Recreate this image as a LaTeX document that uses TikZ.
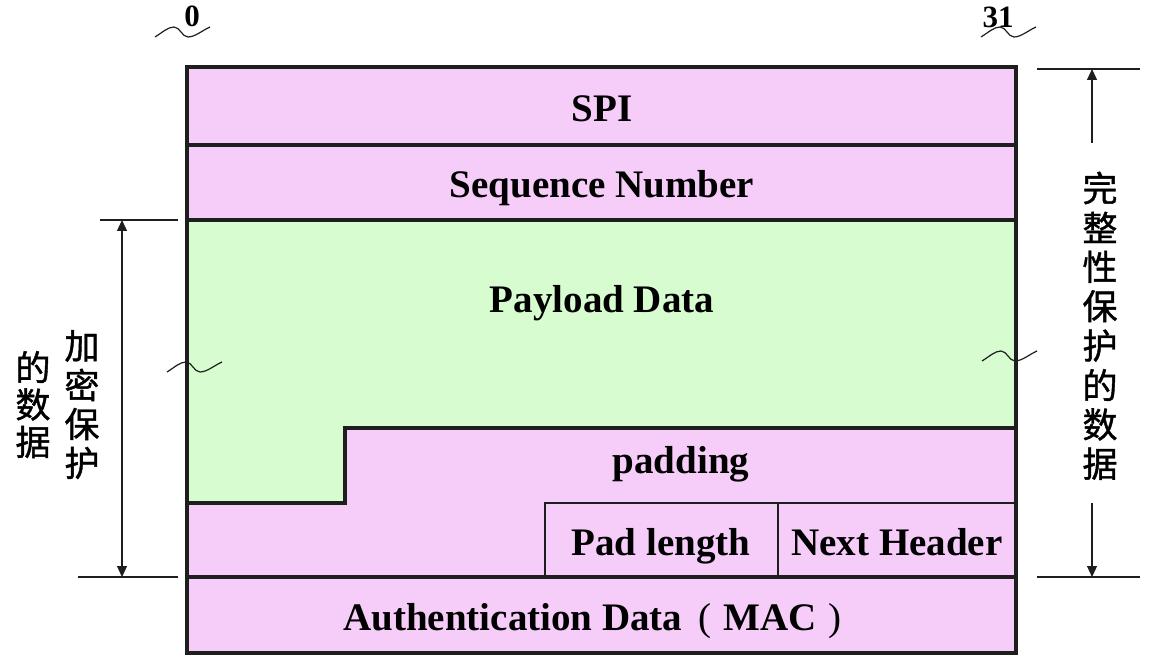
\documentclass[tikz,border=0pt]{standalone}
\usepackage{fontspec}
\setmainfont{Liberation Serif}
\newfontfamily\cjk[FakeBold=1.2]{Noto Sans CJK SC}
\usetikzlibrary{arrows.meta}
\definecolor{pinkc}{RGB}{246,204,249}
\definecolor{greenc}{RGB}{214,252,208}
\definecolor{linec}{RGB}{30,30,30}
\begin{document}
\begin{tikzpicture}[x=0.5pt,y=-0.5pt,
  heavy/.style={draw=linec,line width=2pt},
  light/.style={draw=linec,line width=1.2pt},
  dimline/.style={draw=linec,line width=0.6pt},
  dimarrow/.style={draw=linec,line width=0.6pt,-{Triangle[length=5.5pt,width=5pt]}},
  field/.style={font=\fontsize{19.5}{20}\selectfont\bfseries,anchor=base,inner sep=0pt},
  bitlbl/.style={font=\fontsize{15.5}{16}\selectfont\bfseries,anchor=base,inner sep=0pt},
  cjkchar/.style={font=\cjk\fontsize{17.5}{18}\selectfont,anchor=center,inner sep=0pt},
  wave/.pic={\draw[linec,line width=0.6pt] (0,0) .. controls (8,-5) and (13,-10) .. (19,-10) .. controls (25,-10) and (27,0) .. (33,0) .. controls (40,0) and (48,-7) .. (55,-10);}
]
\useasboundingbox (0,0) rectangle (1150,668);
% fills
\fill[pinkc] (187,67) rectangle (1016,653);
\fill[greenc] (187,221) -- (1016,221) -- (1016,428) -- (345,428) -- (345,503) -- (187,503) -- cycle;
% lines
\draw[light] (545,577) -- (545,503) -- (1016,503);
\draw[light] (778,503) -- (778,577);
\draw[heavy] (187,145) -- (1016,145);
\draw[heavy] (187,220) -- (1016,220);
\draw[heavy] (1016,428) -- (345,428) -- (345,503) -- (187,503);
\draw[heavy] (187,577) -- (1016,577);
\draw[heavy] (187,67) rectangle (1016,653);
% field texts
\node[field] (spi) at (602,122) {SPI};
\node[field] (seq) at (602,198) {Sequence Number};
\node[field] (pay) at (602,312) {Payload Data};
\node[field] (pad) at (681,473) {padding};
\node[field] (padlen) at (661,555) {Pad length};
\node[field] (nh) at (897,555) {Next Header};
\node[field,anchor=base west] (auth) at (343,630) {Authentication Data\hspace{8pt}{\mdseries(}\hspace{6pt}MAC\hspace{6pt}{\mdseries)}};
% bit labels
\node[bitlbl] (b0) at (192,27) {0};
\node[bitlbl] (b31) at (998,28) {31};
\pic at (155,37) {wave};
\pic at (981,37) {wave};
\pic at (167,372) {wave};
\pic at (982,361) {wave};
% left dimension
\coordinate (lt1) at (100,220);
\coordinate (lt2) at (178,220);
\coordinate (lb1) at (78,577);
\coordinate (lb2) at (178,577);
\coordinate (la) at (122,220);
\coordinate (lb) at (122,577);
\draw[dimline] (lt1) -- (lt2);
\draw[dimline] (lb1) -- (lb2);
\draw[dimline,{Triangle[length=5.5pt,width=5pt]}-{Triangle[length=5.5pt,width=5pt]}] (la) -- (lb);
\foreach \c [count=\i] in {加,密,保,护}
  \node[cjkchar] (enc\i) at (82,{346+39*(\i-1)}) {\c};
\foreach \c [count=\i] in {的,数,据}
  \node[cjkchar] (encb\i) at (33,{367+37.5*(\i-1)}) {\c};
% right dimension
\coordinate (rt1) at (1037,69);
\coordinate (rt2) at (1140,69);
\coordinate (rb1) at (1037,577);
\coordinate (rb2) at (1140,577);
\coordinate (ra1) at (1092,143);
\coordinate (ra2) at (1092,69);
\coordinate (rc1) at (1092,503);
\coordinate (rc2) at (1092,577);
\draw[dimline] (rt1) -- (rt2);
\draw[dimline] (rb1) -- (rb2);
\draw[dimarrow] (ra1) -- (ra2);
\draw[dimarrow] (rc1) -- (rc2);
\foreach \c [count=\i] in {完,整,性,保,护,的,数,据}
  \node[cjkchar] (int\i) at (1100,{188+39.4*(\i-1)}) {\c};
\end{tikzpicture}
\end{document}
